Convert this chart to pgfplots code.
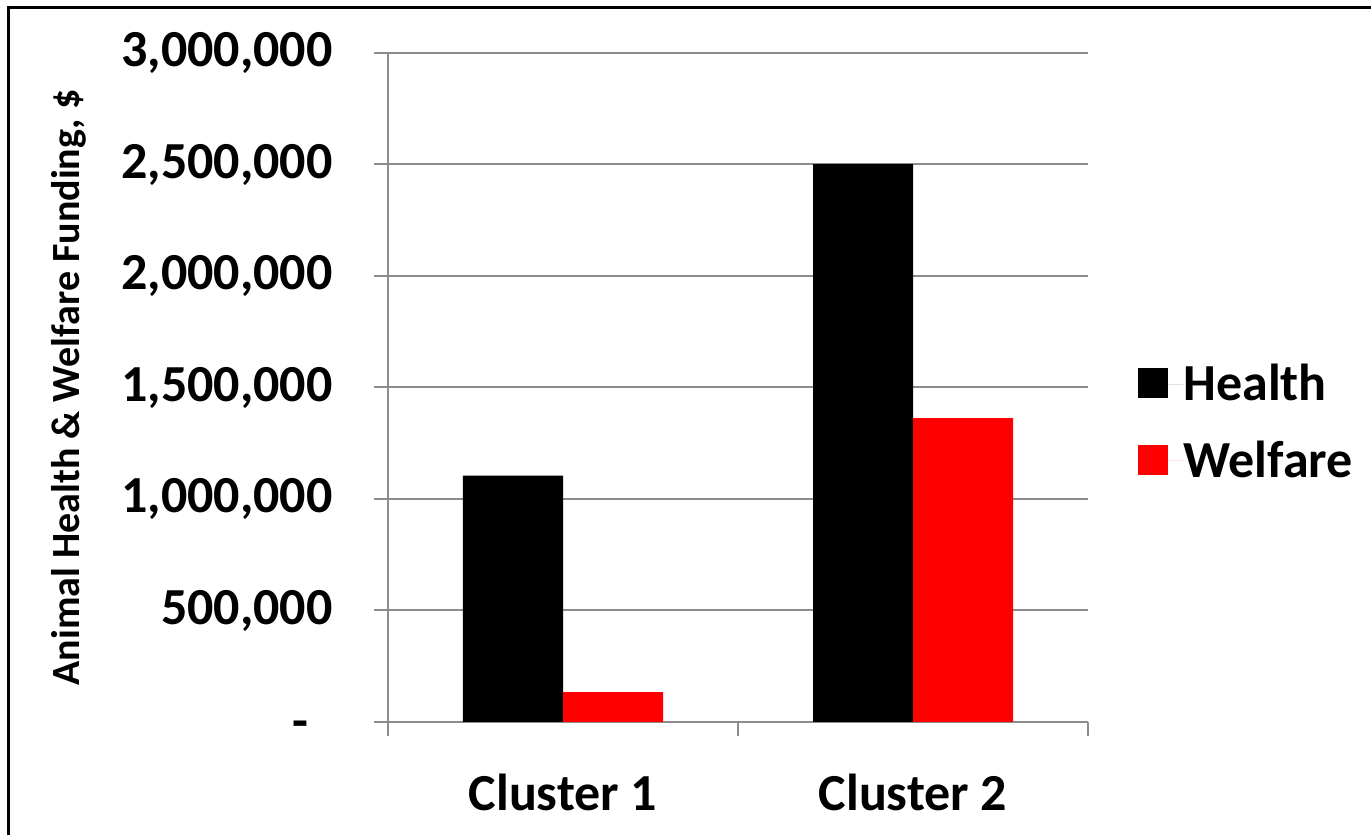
\documentclass[border=0pt]{standalone}
\usepackage{fontspec}
\setmainfont{Carlito}
\usepackage{pgfplots}
\pgfplotsset{compat=1.18}
\definecolor{gridgray}{RGB}{140,140,140}
\newcommand{\bigfont}{\fontsize{26}{31}\selectfont\bfseries}
\begin{document}
\begin{tikzpicture}
\useasboundingbox (0,0) rectangle (685.5pt,417.5pt);
\draw[line width=1.5pt] (4pt,0) -- (4pt,413.5pt) -- (685.5pt,413.5pt);
\begin{axis}[
  at={(194pt,56.5pt)}, anchor=south west,
  scale only axis, width=350pt, height=334.5pt,
  xmin=-0.5, xmax=1.5, ymin=0, ymax=3000000,
  scaled y ticks=false,
  ybar, bar width=50pt,
  axis lines*=left,
  axis line style={draw=gridgray, line width=1pt},
  tick style={draw=gridgray, line width=1pt},
  tick align=outside,
  major tick length=7pt,
  ymajorgrids, grid style={draw=gridgray, line width=1pt},
  ytick={0,500000,1000000,1500000,2000000,2500000,3000000},
  yticklabels={{\raisebox{-4pt}[\height][\depth]{-}\kern12pt},{500,000},{1,000,000},{1,500,000},{2,000,000},{2,500,000},{3,000,000}},
  y tick label style={font=\bigfont, anchor=east, inner sep=0pt, xshift=-20.5pt},
  xtick={-0.5,0.5,1.5}, xticklabels={},
  extra x ticks={0,1},
  extra x tick labels={Cluster 1,Cluster 2},
  extra x tick style={tick style={draw=none}, xmajorgrids=false,
    x tick label style={font=\bigfont, anchor=north, inner sep=0pt, yshift=-19pt}},
  ylabel={Animal Health \& Welfare Funding, \$},
  ylabel style={font=\fontsize{20}{24}\selectfont\bfseries, at={(axis description cs:-0.4557,0.5)}, anchor=center},
  legend style={font=\bigfont, draw=none, fill=none, at={(1.0714,0.448)}, anchor=west,
    inner sep=0pt, row sep=18.5pt, nodes={inner sep=0pt}},
  legend cell align=left,
  legend image code/.code={\fill[#1] (0pt,-7pt) rectangle (15pt,8pt); \path (15pt,0pt) -- (22.5pt,0pt);},
]
\addplot[fill=black, draw=none, bar shift=-25pt] coordinates {(0,1105000) (1,2502000)};
\addlegendentry{Health}
\addplot[fill=red, draw=none, bar shift=25pt] coordinates {(0,134000) (1,1363000)};
\addlegendentry{Welfare}
\end{axis}
\end{tikzpicture}
\end{document}
